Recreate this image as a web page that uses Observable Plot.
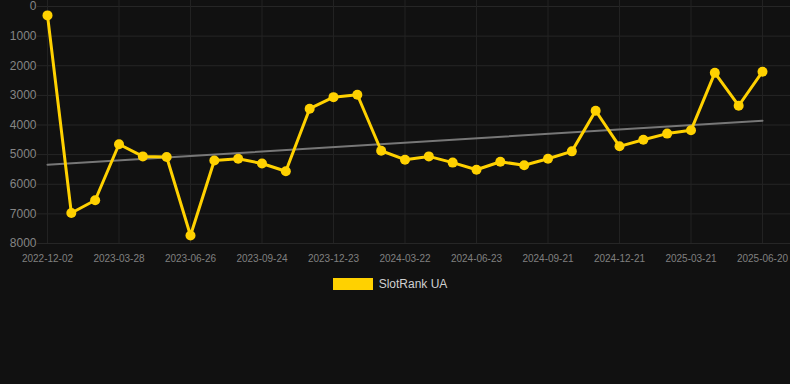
<!DOCTYPE html>
<html><head><meta charset="utf-8">
<script src="https://cdn.jsdelivr.net/npm/d3@7"></script>
<script src="https://cdn.jsdelivr.net/npm/@observablehq/plot@0.6"></script>
<style>
html,body{margin:0;padding:0;background:#111111;}
#chart{width:790px;font-family:"Liberation Sans",Arial,sans-serif;}
.legend{display:flex;align-items:center;justify-content:center;margin-top:8px;height:12px;font:12px "Liberation Sans",Arial,sans-serif;color:#d0d0d0;padding-right:10px;}
.legend .sw{width:40px;height:12px;background:#FFD100;margin-right:6px;}
</style></head><body><div id="chart"></div><script>
const dates = ["2022-12-02","2023-01-10","2023-02-18","2023-03-28","2023-04-27","2023-05-27","2023-06-26","2023-07-26","2023-08-25","2023-09-24","2023-10-24","2023-11-23","2023-12-23","2024-01-22","2024-02-21","2024-03-22","2024-04-22","2024-05-23","2024-06-23","2024-07-23","2024-08-22","2024-09-21","2024-10-21","2024-11-20","2024-12-21","2025-01-20","2025-02-19","2025-03-21","2025-04-20","2025-05-21","2025-06-20"];
const ranks = [300,6970,6540,4650,5060,5080,7730,5200,5140,5300,5560,3450,3060,2980,4870,5170,5060,5270,5510,5240,5360,5140,4890,3520,4720,4500,4290,4180,2240,3350,2200];
const tickLabels = ["2022-12-02","2023-03-28","2023-06-26","2023-09-24","2023-12-23","2024-03-22","2024-06-23","2024-09-21","2024-12-21","2025-03-21","2025-06-20"];
const yTicks = [0,1000,2000,3000,4000,5000,6000,7000,8000];
const seriesName = "SlotRank UA";

const data = dates.map((d, i) => ({i, date: d, rank: ranks[i]}));
const xTicks = dates.map((d, i) => i).filter(i => tickLabels.includes(dates[i]));

const chart = Plot.plot({
  width: 790,
  height: 270,
  marginLeft: 47,
  marginRight: 28,
  marginTop: 6,
  marginBottom: 27,
  style: {background: "#111111", color: "#8a8a8a", fontFamily: "'Liberation Sans', Arial, sans-serif"},
  x: {type: "linear", domain: [0, dates.length - 1]},
  y: {domain: [0, 8000], reverse: true},
  marks: [
    Plot.ruleY(yTicks, {stroke: "#262626", strokeWidth: 1, insetLeft: -10, insetRight: -28}),
    Plot.ruleX(xTicks, {stroke: "#222222", strokeWidth: 1, insetTop: -6}),
    Plot.axisY(yTicks, {tickSize: 0, tickPadding: 11, fontSize: 12, fill: "#858585", label: null, tickFormat: d => String(d)}),
    Plot.axisX(xTicks, {tickSize: 0, tickPadding: 11, fontSize: 10, fill: "#808080", label: null, tickFormat: i => dates[i]}),
    Plot.linearRegressionY(data, {x: "i", y: "rank", ci: 0, stroke: "#777777", strokeWidth: 2}),
    Plot.line(data, {x: "i", y: "rank", stroke: "#FFD100", strokeWidth: 3}),
    Plot.dot(data, {x: "i", y: "rank", fill: "#FFD100", r: 5})
  ]
});
document.getElementById("chart").appendChild(chart);
const lg = document.createElement("div");
lg.className = "legend";
lg.innerHTML = '<span class="sw"></span><span></span>';
lg.lastChild.textContent = seriesName;
document.getElementById("chart").appendChild(lg);
</script></body></html>
